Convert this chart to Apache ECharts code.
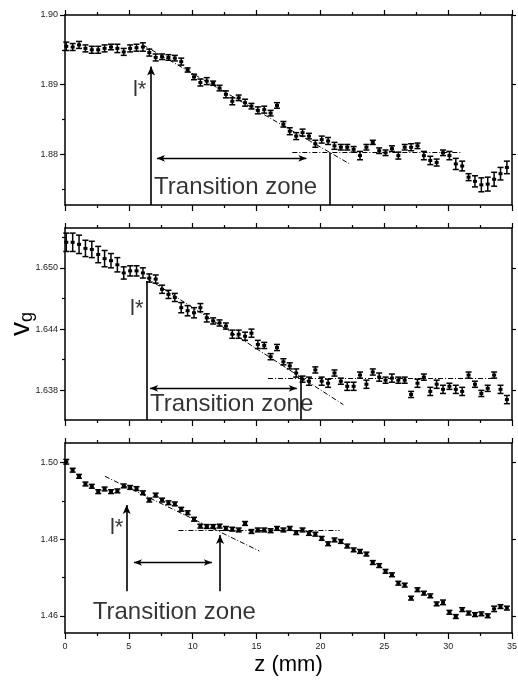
<!DOCTYPE html>
<html><head><meta charset="utf-8">
<script src="https://cdn.jsdelivr.net/npm/echarts@6/dist/echarts.min.js"></script>
<style>html,body{margin:0;padding:0;background:#fff}#main{width:518px;height:682px}</style>
</head><body><div id="main"></div>
<script>
// ---------- data ----------
const zPos = [0.1,0.6,1.1,1.6,2.1,2.6,3.1,3.6,4.1,4.6,5.1,5.6,6.1,6.6,7.1,7.6,8.1,8.6,9.1,9.6,10.1,10.6,11.1,11.6,12.1,12.6,13.1,13.6,14.1,14.6,15.1,15.6,16.1,16.6,17.1,17.6,18.1,18.6,19.1,19.6,20.1,20.6,21.1,21.6,22.1,22.6,23.1,23.6,24.1,24.6,25.1,25.6,26.1,26.6,27.1,27.6,28.1,28.6,29.1,29.6,30.1,30.6,31.1,31.6,32.1,32.6,33.1,33.6,34.1,34.6];

const topV = [1.8955,1.8954,1.8957,1.8952,1.8950,1.8950,1.8952,1.8954,1.8952,1.8947,
1.8952,1.8953,1.8954,1.8946,1.8939,1.8940,1.8939,1.8938,1.8933,1.8921,
1.8911,1.8903,1.8905,1.8902,1.8895,1.8886,1.8876,1.8881,1.8874,1.8869,
1.8863,1.8864,1.8859,1.8870,1.8843,1.8833,1.8826,1.8831,1.8826,1.8815,
1.8821,1.8819,1.8812,1.8810,1.8810,1.8807,1.8798,1.8810,1.8817,1.8805,
1.8802,1.8808,1.8798,1.8810,1.8810,1.8812,1.8798,1.8791,1.8788,1.8802,
1.8798,1.8786,1.8783,1.8767,1.8761,1.8756,1.8757,1.8764,1.8772,1.8781];
const topErr = [0.0006,0.0005,0.0005,0.0005,0.0005,0.0005,0.0005,0.0004,0.0006,0.0005,
0.0005,0.0005,0.0006,0.0005,0.0005,0.0004,0.0004,0.0004,0.0005,0.0003,
0.0004,0.0005,0.0005,0.0003,0.0004,0.0005,0.0005,0.0004,0.0005,0.0004,
0.0005,0.0005,0.0004,0.0004,0.0004,0.0005,0.0005,0.0005,0.0004,0.0005,
0.0005,0.0005,0.0005,0.0004,0.0004,0.0004,0.0006,0.0004,0.0003,0.0004,
0.0004,0.0004,0.0005,0.0004,0.0005,0.0004,0.0006,0.0006,0.0005,0.0004,
0.0006,0.0008,0.0007,0.0005,0.0008,0.0010,0.0010,0.0010,0.0009,0.0009];

const midV = [1.6525,1.6525,1.6523,1.6519,1.6518,1.6513,1.6509,1.6507,1.6503,1.6495,
1.6497,1.6497,1.6495,1.6490,1.6489,1.6479,1.6474,1.6471,1.6461,1.6458,
1.6456,1.6461,1.6451,1.6448,1.6446,1.6443,1.6435,1.6435,1.6433,1.6436,
1.6425,1.6424,1.6413,1.6422,1.6408,1.6404,1.6397,1.6391,1.6389,1.6400,
1.6389,1.6387,1.6397,1.6389,1.6384,1.6384,1.6395,1.6386,1.6398,1.6393,
1.6390,1.6392,1.6390,1.6390,1.6376,1.6387,1.6393,1.6379,1.6386,1.6381,
1.6384,1.6381,1.6379,1.6395,1.6386,1.6377,1.6382,1.6395,1.6381,1.6371];
const midErr = [0.0009,0.0009,0.0009,0.0008,0.0008,0.0008,0.0008,0.0007,0.0007,0.0006,
0.0005,0.0005,0.0005,0.0004,0.0004,0.0004,0.0004,0.0004,0.0005,0.0005,
0.0005,0.0004,0.0004,0.0003,0.0003,0.0003,0.0004,0.0004,0.0004,0.0004,
0.0004,0.0003,0.0003,0.0003,0.0003,0.0003,0.0004,0.0003,0.0004,0.0003,
0.0004,0.0004,0.0003,0.0003,0.0004,0.0004,0.0003,0.0004,0.0003,0.0004,
0.0003,0.0004,0.0003,0.0003,0.0003,0.0004,0.0003,0.0004,0.0004,0.0004,
0.0003,0.0004,0.0004,0.0003,0.0003,0.0003,0.0003,0.0003,0.0004,0.0004];

const botV = [1.5002,1.4980,1.4964,1.4944,1.4938,1.4924,1.4931,1.4924,1.4926,1.4939,
1.4935,1.4932,1.4921,1.4902,1.4915,1.4902,1.4895,1.4892,1.4878,1.4869,
1.4852,1.4834,1.4833,1.4833,1.4834,1.4828,1.4826,1.4824,1.4841,1.4820,
1.4824,1.4824,1.4822,1.4828,1.4824,1.4828,1.4817,1.4824,1.4815,1.4813,
1.4802,1.4788,1.4798,1.4794,1.4782,1.4772,1.4768,1.4761,1.4739,1.4731,
1.4716,1.4707,1.4685,1.4680,1.4646,1.4668,1.4659,1.4652,1.4631,1.4635,
1.4609,1.4598,1.4616,1.4607,1.4603,1.4605,1.4600,1.4618,1.4624,1.4620];
const botErr = [0.0006,0.0005,0.0005,0.0005,0.0005,0.0005,0.0005,0.0005,0.0005,0.0005,
0.0005,0.0005,0.0005,0.0005,0.0005,0.0005,0.0005,0.0005,0.0005,0.0005,
0.0005,0.0005,0.0005,0.0005,0.0005,0.0005,0.0005,0.0005,0.0005,0.0005,
0.0005,0.0005,0.0005,0.0005,0.0005,0.0005,0.0005,0.0005,0.0005,0.0005,
0.0005,0.0005,0.0005,0.0005,0.0005,0.0005,0.0005,0.0005,0.0005,0.0005,
0.0005,0.0005,0.0005,0.0005,0.0005,0.0005,0.0005,0.0005,0.0005,0.0006,
0.0005,0.0005,0.0005,0.0005,0.0005,0.0005,0.0005,0.0007,0.0005,0.0005];

// axis ranges and tick values
const xTickLabels = [0,5,10,15,20,25,30,35];
const topYRange = [1.8727, 1.9000];
const midYRange = [1.6351, 1.6539];
const botYRange = [1.4555, 1.5051];
const topYMajor = [1.88, 1.89, 1.90];
const topYMinor = [1.875, 1.885, 1.895];
const midYMajor = [1.638, 1.644, 1.650];
const midYMinor = [1.641, 1.647, 1.653];
const botYMajor = [1.46, 1.48, 1.50];
const botYMinor = [1.47, 1.49];

// annotations (data coordinates)
const topFitSlope = [[6.1, 1.8957], [22.3, 1.8786]];
const topFitFlat  = [[17.8, 1.8803], [31.1, 1.8803]];
const topArrowUp  = [[6.74, 1.8727], [6.74, 1.8926]];
const topVLine    = [[20.7, 1.8727], [20.7, 1.8802]];
const topDouble   = [[7.2, 1.8794], [18.9, 1.8794]];
const topZoneText = [6.97, 1.8752];
const topStarText = [5.32, 1.8892];

const midFitSlope = [[6.4, 1.6490], [21.8, 1.6366]];
const midFitFlat  = [[15.9, 1.6392], [33.7, 1.6392]];
const midVLine1   = [[6.4, 1.6351], [6.4, 1.6487]];
const midVLine2   = [[18.48, 1.6351], [18.48, 1.6394]];
const midDouble   = [[6.66, 1.6382], [18.15, 1.6382]];
const midZoneText = [6.66, 1.6366];
const midStarText = [5.09, 1.6460];

const botFitSlope = [[3.13, 1.4964], [15.22, 1.4769]];
const botFitFlat  = [[8.88, 1.4824], [21.5, 1.4824]];
const botArrow1   = [[4.83, 1.4664], [4.83, 1.4889]];
const botArrow2   = [[12.14, 1.4664], [12.14, 1.4811]];
const botDouble   = [[5.4, 1.4739], [11.5, 1.4739]];
const botZoneText = [2.17, 1.4609];
const botStarText = [3.52, 1.4828];

// ---------- chart ----------
const FONT = 'Liberation Sans, Arial, sans-serif';
const grids = [
  {left: 65, top: 15, width: 447, height: 190, outerBoundsMode: 'none', containLabel: false},
  {left: 65, top: 228, width: 447, height: 192, outerBoundsMode: 'none', containLabel: false},
  {left: 65, top: 443, width: 447, height: 190, outerBoundsMode: 'none', containLabel: false}
];
const panels = [
  {v: topV, e: topErr, range: topYRange, major: topYMajor, minor: topYMinor, dig: 2,
   fits: [topFitSlope, topFitFlat], lines: [topVLine], up: [topArrowUp], dbl: [topDouble],
   zone: topZoneText, star: topStarText},
  {v: midV, e: midErr, range: midYRange, major: midYMajor, minor: midYMinor, dig: 3,
   fits: [midFitSlope, midFitFlat], lines: [midVLine1, midVLine2], up: [], dbl: [midDouble],
   zone: midZoneText, star: midStarText},
  {v: botV, e: botErr, range: botYRange, major: botYMajor, minor: botYMinor, dig: 2,
   fits: [botFitSlope, botFitFlat], lines: [], up: [botArrow1, botArrow2], dbl: [botDouble],
   zone: botZoneText, star: botStarText}
];

const axLine = {show: true, lineStyle: {color: '#000', width: 1.5}};
const xAxes = [], yAxes = [], series = [];
panels.forEach((p, g) => {
  const isBottom = g === 2;
  xAxes.push({
    gridIndex: g, type: 'value', position: 'bottom', min: 0, max: 35, interval: 5,
    axisLine: axLine,
    axisTick: {show: true, inside: false, length: 6, lineStyle: {color: '#000', width: 1.2}},
    minorTick: {show: true, splitNumber: 2, length: 3, lineStyle: {color: '#000', width: 1.2}},
    axisLabel: {show: isBottom, color: '#222', fontSize: 9, fontFamily: FONT, margin: 9,
      customValues: xTickLabels},
    splitLine: {show: false}, minorSplitLine: {show: false},
    name: isBottom ? 'z (mm)' : '', nameLocation: 'middle', nameGap: 21, nameMoveOverlap: false,
    nameTextStyle: {fontSize: 22, fontFamily: FONT, color: '#000'}
  });
  xAxes.push({
    gridIndex: g, type: 'value', position: 'top', min: 0, max: 35, interval: 5,
    axisLine: axLine,
    axisTick: {show: true, inside: false, length: 5, lineStyle: {color: '#000', width: 1.2}},
    minorTick: {show: true, splitNumber: 2, length: 3, lineStyle: {color: '#000', width: 1.2}},
    axisLabel: {show: false}, splitLine: {show: false}
  });
  const fmt = v => v.toFixed(p.dig);
  yAxes.push({
    gridIndex: g, type: 'value', position: 'left', min: p.range[0], max: p.range[1],
    axisLine: axLine,
    axisTick: {show: true, inside: false, length: 5, customValues: p.major, lineStyle: {color: '#000', width: 1.2}},
    axisLabel: {show: true, customValues: p.major, formatter: fmt, color: '#222', fontSize: 9, fontFamily: FONT, margin: 7},
    splitLine: {show: false},
    name: g === 1 ? '{v|v}{g|g}' : '', nameLocation: 'middle', nameRotate: 90, nameGap: 29,
    nameMoveOverlap: false,
    nameTextStyle: {fontFamily: FONT, color: '#000', rich: {
      v: {fontSize: 28, fontFamily: FONT, color: '#000'},
      g: {fontSize: 18, fontFamily: FONT, color: '#000', padding: [12, 0, 0, 0]}
    }}
  });
  yAxes.push({
    gridIndex: g, type: 'value', position: 'left', min: p.range[0], max: p.range[1],
    axisLine: {show: false},
    axisTick: {show: true, inside: false, length: 3, customValues: p.minor, lineStyle: {color: '#000', width: 1.2}},
    axisLabel: {show: false}, splitLine: {show: false}
  });
  yAxes.push({
    gridIndex: g, type: 'value', position: 'right', min: p.range[0], max: p.range[1],
    axisLine: axLine,
    axisTick: {show: true, inside: false, length: 4, customValues: p.major, lineStyle: {color: '#000', width: 1.2}},
    axisLabel: {show: false}, splitLine: {show: false}
  });

  const data = zPos.map((z, i) => [z, p.v[i], p.e[i]]);
  const mlData = [];
  const fitStyle = {color: '#000', width: 1, type: [5, 2, 1, 2]};
  p.fits.forEach(f => mlData.push([
    {coord: f[0], symbol: 'none', lineStyle: fitStyle}, {coord: f[1], symbol: 'none'}]));
  const solid = {color: '#000', width: 1.6, type: 'solid'};
  p.lines.forEach(f => mlData.push([
    {coord: f[0], symbol: 'none', lineStyle: solid}, {coord: f[1], symbol: 'none'}]));
  p.up.forEach(f => mlData.push([
    {coord: f[0], symbol: 'none', lineStyle: solid}, {coord: f[1], symbol: 'arrow', symbolSize: [6, 9]}]));
  p.dbl.forEach(f => mlData.push([
    {coord: f[0], symbol: 'arrow', symbolSize: [5, 8], lineStyle: {color: '#000', width: 1.3, type: 'solid'}},
    {coord: f[1], symbol: 'arrow', symbolSize: [5, 8]}]));

  series.push({
    type: 'custom', xAxisIndex: 2 * g, yAxisIndex: 3 * g, data: data,
    encode: {x: 0, y: 1}, animation: false, silent: true, z: 3,
    renderItem: (params, api) => {
      const x = api.value(0), y = api.value(1), e = api.value(2);
      const c = api.coord([x, y]);
      const hi = api.coord([x, y + e]);
      const lo = api.coord([x, y - e]);
      const w = 3, st = {stroke: '#000', lineWidth: 1.5};
      return {type: 'group', children: [
        {type: 'line', shape: {x1: c[0], y1: hi[1], x2: c[0], y2: lo[1]}, style: st},
        {type: 'line', shape: {x1: c[0] - w, y1: hi[1], x2: c[0] + w, y2: hi[1]}, style: st},
        {type: 'line', shape: {x1: c[0] - w, y1: lo[1], x2: c[0] + w, y2: lo[1]}, style: st},
        {type: 'rect', shape: {x: c[0] - 2, y: c[1] - 1.5, width: 4, height: 3}, style: {fill: '#000'}}
      ]};
    },
    markLine: {silent: true, animation: false, symbol: ['none', 'none'], label: {show: false},
      emphasis: {disabled: true}, data: mlData}
  });

  series.push({
    type: 'scatter', xAxisIndex: 2 * g, yAxisIndex: 3 * g, symbolSize: 0, silent: true, animation: false,
    data: [
      {value: [p.zone[0], p.zone[1]], name: 'Transition zone', label: {fontSize: 24}},
      {value: [p.star[0], p.star[1]], name: 'l*', label: {fontSize: 22}}
    ],
    label: {show: true, position: 'right', distance: 0, color: '#000', fontFamily: FONT,
      fontSize: 24, formatter: q => q.name},
    emphasis: {disabled: true}
  });
});

const chart = echarts.init(document.getElementById('main'), null, {renderer: 'canvas'});
chart.setOption({
  backgroundColor: '#fff', animation: false,
  grid: grids, xAxis: xAxes, yAxis: yAxes, series: series
});
</script></body></html>
